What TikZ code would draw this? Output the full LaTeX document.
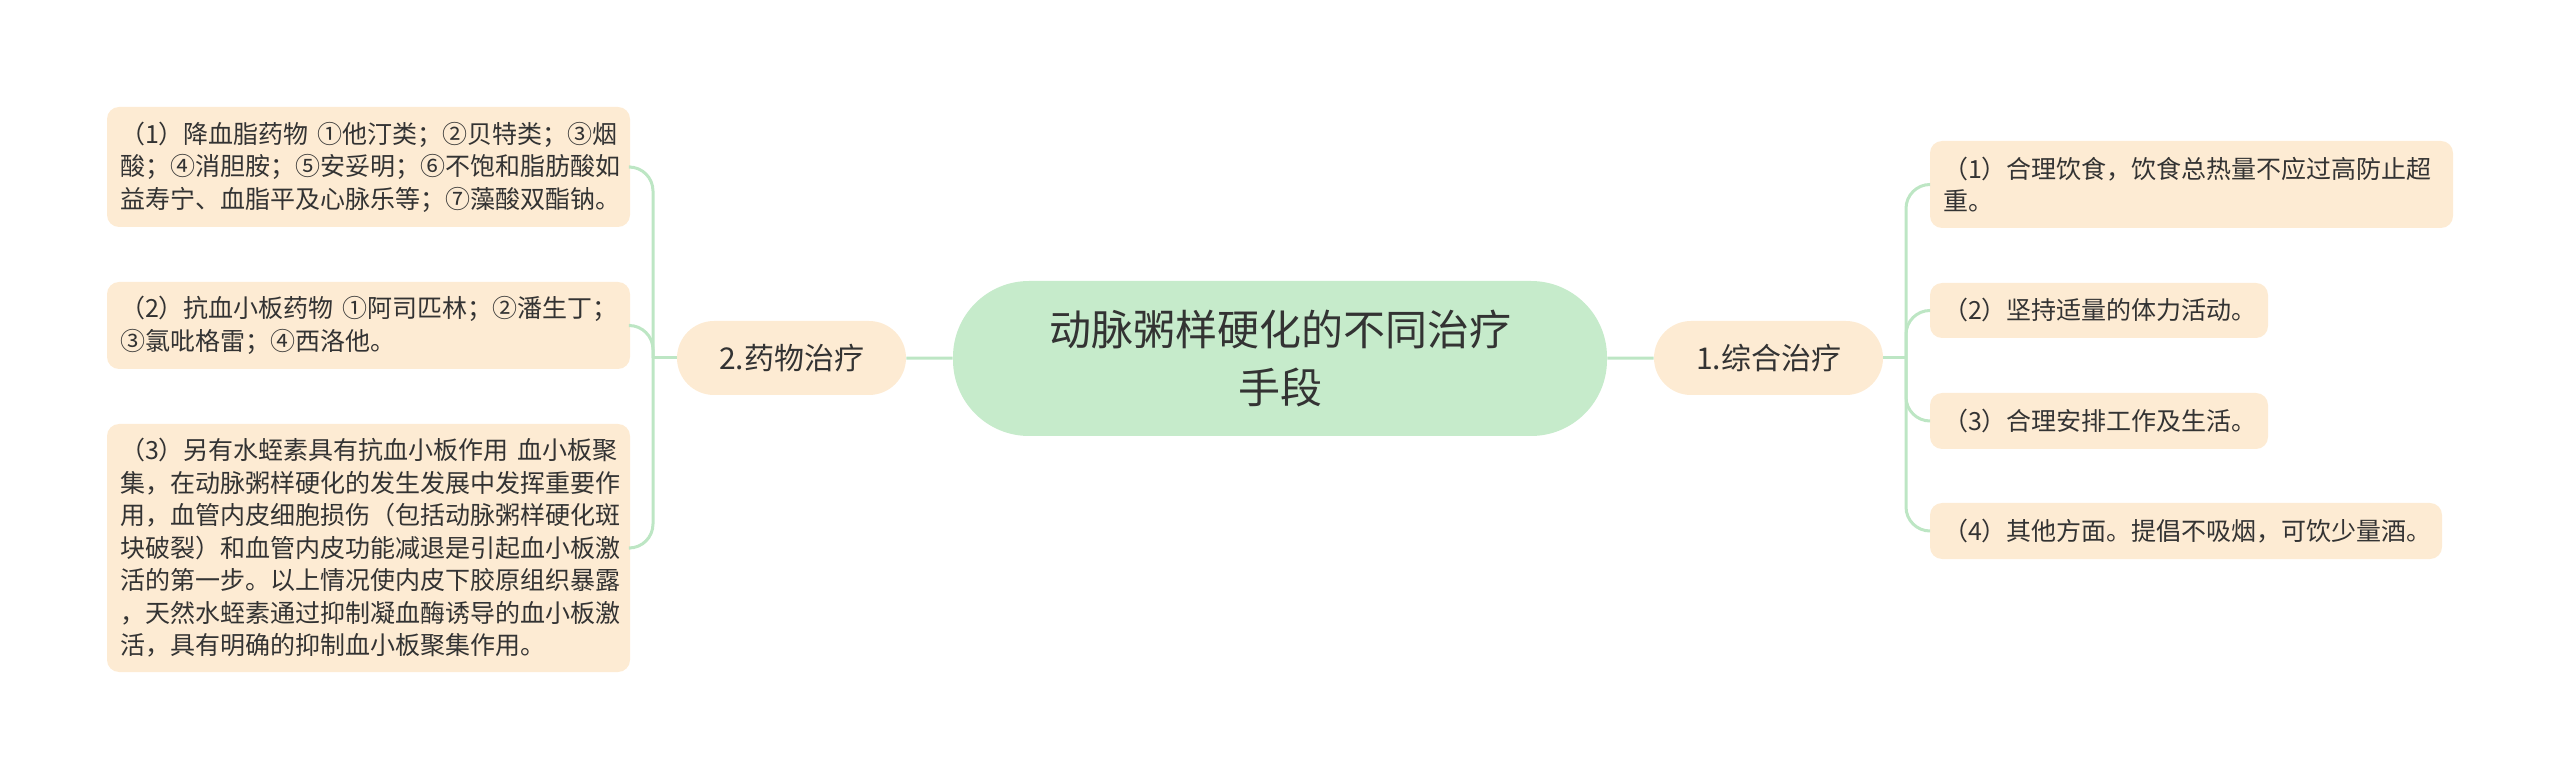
\documentclass[tikz,border=0pt]{standalone}
\usepackage{fontspec}
\setmainfont{Noto Sans CJK SC}
\definecolor{rootfill}{HTML}{C6EBCB}
\definecolor{leaffill}{HTML}{FDEBD3}
\definecolor{linkcol}{HTML}{BDE6C4}
\definecolor{txt}{HTML}{333333}

\begin{document}
\begin{tikzpicture}[x=0.5pt,y=-0.5pt,
  every node/.style={text=txt,inner sep=0pt},
  root/.style={fill=rootfill,rounded corners=38pt,minimum width=327pt,
    minimum height=77.5pt,align=center,font=\fontsize{21pt}{29pt}\selectfont},
  topic/.style={fill=leaffill,rounded corners=18.5pt,minimum width=114.5pt,
    minimum height=37pt,font=\fontsize{15pt}{18pt}\selectfont},
  leaf/.style={fill=leaffill,rounded corners=6pt,inner xsep=6.5pt,align=left,
    font=\fontsize{12.5pt}{16.25pt}\selectfont},
  link/.style={draw=linkcol,line width=1.5pt,rounded corners=12pt}]
  \useasboundingbox (0,0) rectangle (2560,780);
  \node (c) at (1280,358.5) [root] {动脉粥样硬化的不同治疗\\手段};
  \node (b2) at (791.5,358) [topic] {2.药物治疗}; \node
  (b1) at (1768.5,358) [topic] {1.综合治疗};
  \coordinate (ls) at (653,358); \coordinate (rs) at (1906,358);
  \node (l1) at (368.5,167) [leaf,text width=248.5pt,minimum height=60pt]
  {（1）降血脂药物~①他汀类；②贝特类；③烟\\酸；④消胆胺；⑤安妥明；⑥不饱和脂肪酸如\\益寿宁、血脂平及心脉乐等；⑦藻酸双酯钠。};
  \node (l2) at (368.5,325.5) [leaf,text width=248.5pt,minimum height=43.5pt]
  {（2）抗血小板药物~①阿司匹林；②潘生丁；\\③氯吡格雷；④西洛他。};
  \node (l3) at (368.5,548) [leaf,text width=248.5pt,minimum height=124pt]
  {（3）另有水蛭素具有抗血小板作用~血小板聚\\集，在动脉粥样硬化的发生发展中发挥重要作\\用，血管内皮细胞损伤（包括动脉粥样硬化斑\\块破裂）和血管内皮功能减退是引起血小板激\\活的第一步。以上情况使内皮下胶原组织暴露\\，天然水蛭素通过抑制凝血酶诱导的血小板激\\活，具有明确的抑制血小板聚集作用。};
  \node (r1) at (2191.5,184.5) [leaf,text width=248.5pt,minimum height=43.5pt]
  {（1）合理饮食，饮食总热量不应过高防止超\\重。};
  \node (r2) at (2099,310.5) [leaf,text width=156pt,minimum height=27.5pt]
  {（2）坚持适量的体力活动。};
  \node (r3) at (2099,421) [leaf,text width=156pt,minimum height=28pt]
  {（3）合理安排工作及生活。};
  \node (r4) at (2186,531) [leaf,text width=243pt,minimum height=28pt]
  {（4）其他方面。提倡不吸烟，可饮少量酒。};
  \draw [link] (c) -- (b2); \draw [link] (c) -- (b1);
  \draw [link] (b2) -- (ls); \draw [link] (b1) -- (rs);
  \draw [link] (ls) |- (l1); \draw [link] (ls) |- (l2);
  \draw [link] (ls) |- (l3);
  \draw [link] (rs) |- (r1); \draw [link] (rs) |- (r2);
  \draw [link] (rs) |- (r3); \draw [link] (rs) |- (r4);
\end{tikzpicture}
\end{document}
